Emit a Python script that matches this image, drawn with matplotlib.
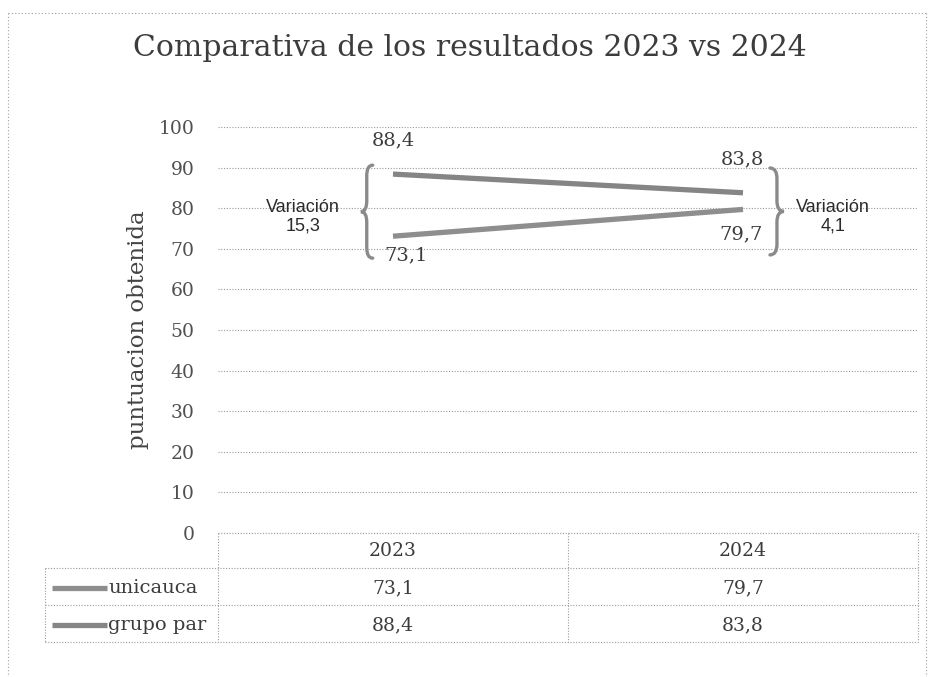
import matplotlib
matplotlib.use("Agg")
import matplotlib.pyplot as plt
from matplotlib.path import Path
from matplotlib.patches import PathPatch
from matplotlib.lines import Line2D
import matplotlib.transforms as mtransforms

# datos del grafico
years = ["2023", "2024"]
series_names = ["unicauca", "grupo par"]
unicauca = [73.1, 79.7]
grupo_par = [88.4, 83.8]
yticks = [0, 10, 20, 30, 40, 50, 60, 70, 80, 90, 100]

W, H = 930, 677
serif = "DejaVu Serif"
sans = "Liberation Sans"
txt = "#3c3c3c"
grid_c = "#9a9a9a"
line_c = ["#8e8e8e", "#858585"]


def fx(px):
    return px / W


def fy(py):
    return 1 - py / H


def fmt(v):
    return f"{v:.1f}".replace(".", ",")


def brace(ax, x, y0, y1, w, side, d=2.6):
    # side=-1 -> "{" (punta a la izquierda), side=+1 -> "}"
    ym = (y0 + y1) / 2
    s = side
    verts = [(x - s * w, y1), (x, y1), (x, y1 - d), (x, ym + d), (x, ym),
             (x + s * w, ym), (x, ym), (x, ym - d), (x, y0 + d), (x, y0),
             (x - s * w, y0)]
    codes = [Path.MOVETO, Path.CURVE3, Path.CURVE3, Path.LINETO, Path.CURVE3,
             Path.CURVE3, Path.CURVE3, Path.CURVE3, Path.LINETO, Path.CURVE3,
             Path.CURVE3]
    ax.add_patch(PathPatch(Path(verts, codes), fill=False, edgecolor="#8a8a8a",
                           lw=2.4, clip_on=False, capstyle="round"))


fig = plt.figure(figsize=(W / 100, H / 100), dpi=100)
ax = fig.add_axes([fx(218), fy(533), fx(918) - fx(218), fy(127) - fy(533)])

x = list(range(len(years)))
all_series = [unicauca, grupo_par]
for vals, c in zip(all_series, line_c):
    ax.plot(x, vals, color=c, lw=3.8, solid_capstyle="butt", zorder=3)

ax.set_xlim(-0.5, len(years) - 0.5)
ax.set_ylim(0, 100)
ax.set_yticks(yticks)
ax.set_yticklabels([str(t) for t in yticks], family=serif, fontsize=13.5, color="#505050")
ax.tick_params(axis="y", length=0, pad=17)
ax.set_xticks([])
for s in ax.spines.values():
    s.set_visible(False)
ax.grid(axis="y", color=grid_c, ls=(0, (1, 1.5)), lw=0.8)

ax.set_ylabel("puntuacion obtenida", family=serif, fontsize=16.5, color="#444444")
ax.yaxis.set_label_coords(-0.114, 0.5)
ax.yaxis.label.set_va("center")

# etiquetas de datos
lab = dict(ha="center", va="center", family=serif, fontsize=14, color=txt,
           textcoords="offset pixels")
ax.annotate(fmt(grupo_par[0]), (0, grupo_par[0]), xytext=(0, 34), **lab)
ax.annotate(fmt(unicauca[0]), (0, unicauca[0]), xytext=(13, -19), **lab)
ax.annotate(fmt(grupo_par[1]), (1, grupo_par[1]), xytext=(-1, 33), **lab)
ax.annotate(fmt(unicauca[1]), (1, unicauca[1]), xytext=(-2, -25), **lab)

# llaves y variaciones
brace(ax, -0.075, 67.7, 90.6, 0.017, -1)
brace(ax, 1.097, 68.5, 89.9, 0.02, 1)
var0 = abs(grupo_par[0] - unicauca[0])
var1 = abs(grupo_par[1] - unicauca[1])
ax.text(-0.257, 77.8, "Variación\n" + fmt(var0), ha="center", va="center",
        family=sans, fontsize=13, color="#2a2a2a", linespacing=1.1)
ax.text(1.257, 77.8, "Variación\n" + fmt(var1), ha="center", va="center",
        family=sans, fontsize=13, color="#2a2a2a", linespacing=1.1)

# titulo
fig.text(fx(470), fy(48), "Comparativa de los resultados 2023 vs 2024", ha="center",
         va="center", family=serif, fontsize=21.5, color=txt)

# tabla de datos
tb = mtransforms.blended_transform_factory(ax.transData, fig.transFigure)
dot = dict(color=grid_c, ls=(0, (1, 1.5)), lw=0.8)
row_top = [533, 568, 605, 642]
# lineas horizontales
fig.add_artist(Line2D([fx(218), fx(918)], [fy(533), fy(533)], transform=fig.transFigure, **dot))
for py in row_top[1:]:
    fig.add_artist(Line2D([fx(45), fx(918)], [fy(py), fy(py)], transform=fig.transFigure, **dot))
# lineas verticales
for xd in [-0.5, 0.5, 1.5]:
    fig.add_artist(Line2D([xd, xd], [fy(533), fy(642)], transform=tb, **dot))
fig.add_artist(Line2D([fx(45), fx(45)], [fy(568), fy(642)], transform=fig.transFigure, **dot))

for i, yr in enumerate(years):
    fig.text(i, fy(551), yr, transform=tb, ha="center", va="center", family=serif,
             fontsize=13.5, color=txt)
row_y = [588, 625]
for name, vals, c, py in zip(series_names, all_series, line_c, row_y):
    fig.add_artist(Line2D([fx(52), fx(107)], [fy(py), fy(py)], transform=fig.transFigure,
                          color=c, lw=3.8, solid_capstyle="butt"))
    fig.text(fx(108), fy(py), name, ha="left", va="center", family=serif, fontsize=14, color=txt)
    for i, v in enumerate(vals):
        fig.text(i, fy(py), fmt(v), transform=tb, ha="center", va="center", family=serif,
                 fontsize=13.5, color=txt)

# marco exterior punteado
for xs, ys in [([8, 8], [13, 677]), ([8, 926], [13, 13]), ([926, 926], [13, 677])]:
    fig.add_artist(Line2D([fx(a) for a in xs], [fy(b) for b in ys], transform=fig.transFigure,
                          color="#a0a0a0", ls=(0, (1, 2)), lw=0.8))

fig.savefig("out.png", dpi=100)
